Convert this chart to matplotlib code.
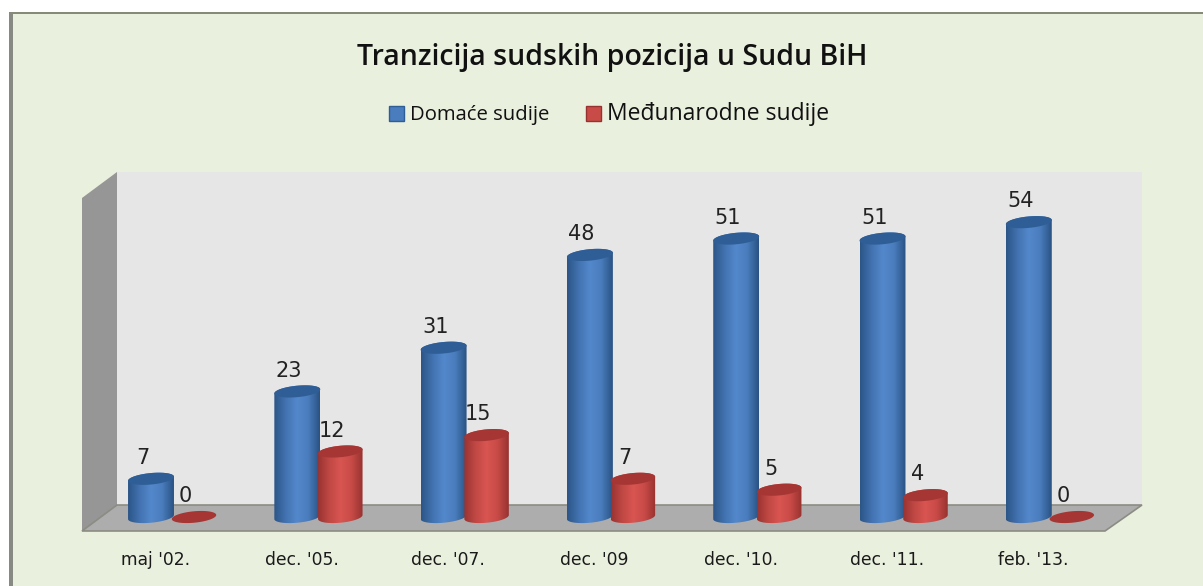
import numpy as np
import matplotlib
matplotlib.use("Agg")
import matplotlib.pyplot as plt
from matplotlib.colors import LinearSegmentedColormap
from matplotlib.patches import Patch, Polygon, Rectangle
from matplotlib.transforms import Affine2D

W, H = 1203, 586

categories = ["maj '02.", "dec. '05.", "dec. '07.", "dec. '09", "dec. '10.", "dec. '11.", "feb. '13."]
domace = [7, 23, 31, 48, 51, 51, 54]
medjunarodne = [0, 12, 15, 7, 5, 4, 0]

title = "Tranzicija sudskih pozicija u Sudu BiH"
series_names = ["Domaće sudije", "Međunarodne sudije"]

# scale of the picture: one category step and one judge, in pixels
PX_CAT = 146.3
PX_VAL = 5.46
X0_PX = 151   # first blue bar
Y0_PX = 517   # value zero

BLUE = LinearSegmentedColormap.from_list("b", ["#2c5688", "#4272b0", "#5388cc", "#4a7dbd", "#2a5384"])
RED = LinearSegmentedColormap.from_list("r", ["#9a3331", "#c04844", "#d95552", "#c84b47", "#983230"])


def cylinder(ax, x, value, cmap, top_color, half_w=0.157, half_h=1.05):
    slope = 0.09 * PX_CAT / PX_VAL  # ellipses rise to the right
    t = np.linspace(0, 2 * np.pi, 80)
    ex = half_w * np.cos(t)
    ey = half_h * np.sin(t) + slope * ex
    if value == 0:
        ax.add_patch(Polygon(np.c_[x + ex, ey], closed=True, fc=top_color, ec="none", zorder=5))
        return
    # body outline: bottom half of the lower ellipse, then back up over the top
    s = np.linspace(np.pi, 2 * np.pi, 40)
    bx = half_w * np.cos(s)
    by = half_h * np.sin(s) + slope * bx
    tx = half_w * np.cos(s - np.pi)
    ty = half_h * np.sin(s - np.pi) + slope * tx + value
    body = Polygon(np.c_[np.r_[x + bx, x + tx], np.r_[by, ty]], closed=True, fc="none", ec="none",
                   transform=ax.transData)
    ax.add_patch(body)
    im = ax.imshow(np.linspace(0, 1, 64)[None, :], extent=[x - half_w, x + half_w, -5, value + 5],
                   cmap=cmap, aspect="auto", zorder=5, interpolation="bilinear")
    im.set_clip_path(body)
    ax.add_patch(Polygon(np.c_[x + ex, ey + value], closed=True, fc=top_color, ec="none", zorder=6))


fig = plt.figure(figsize=(W / 100, H / 100), dpi=100, facecolor="white")
ax = fig.add_axes([0, 0, 1, 1])
ax.set_xlim(-X0_PX / PX_CAT, (W - X0_PX) / PX_CAT)
ax.set_ylim(-(H - Y0_PX) / PX_VAL, Y0_PX / PX_VAL)
ax.patch.set_alpha(0)
for s in ax.spines.values():
    s.set_visible(False)
ax.set_yticks([])

# picture frame and the 3D box, placed in pixels
px = Affine2D().scale(1, -1).translate(0, H)
ax.add_patch(Rectangle((10, 12), W - 10, H - 12, fc="#e9f0de", ec="none", transform=px, zorder=0))
ax.add_patch(Rectangle((9, 12), 3.5, H - 12, fc="#868a82", ec="none", transform=px, zorder=1))
ax.add_patch(Rectangle((9, 12), W - 9, 2, fc="#868a78", ec="none", transform=px, zorder=1))
ax.add_patch(Polygon([(117, 172), (1142, 172), (1142, 505), (117, 505)], fc="#e6e6e6", ec="none", transform=px, zorder=1))
ax.add_patch(Polygon([(82, 198), (117, 172), (117, 505), (82, 531)], fc="#969696", ec="none", transform=px, zorder=2))
ax.add_patch(Polygon([(82, 531), (117, 505), (1142, 505), (1105, 531)], fc="#adadad", ec="#8c8c84", lw=1.2,
                     transform=px, zorder=2))

x = np.arange(len(categories))
RED_OFFSET = 43 / PX_CAT

for i in x:
    cylinder(ax, i, domace[i], BLUE, "#2f5e96")
    ax.annotate(str(domace[i]), (i, domace[i]), xytext=(-6, 15), textcoords="offset points",
                ha="center", va="center", fontsize=15, color="#222222", zorder=9)
for i in x:
    cylinder(ax, i + RED_OFFSET, medjunarodne[i], RED, "#a63633", half_w=0.152)
    ax.annotate(str(medjunarodne[i]), (i + RED_OFFSET, medjunarodne[i]), xytext=(-6, 15),
                textcoords="offset points", ha="center", va="center", fontsize=15, color="#222222", zorder=9)

ax.set_xticks(x + 0.03)
ax.set_xticklabels(categories, fontsize=12.3, color="#1a1a1a", fontfamily="DejaVu Sans")
ax.tick_params(axis="x", length=0, pad=-25)
for lab in ax.get_xticklabels():
    lab.set_zorder(9)

fig.text(612 / W, 1 - 57 / H, title, ha="center", va="center", fontsize=20.5,
         fontfamily="Open Sans", fontweight="semibold", color="#111111")

handles = [Patch(fc="#4a7dbd", ec="#2f5e96"), Patch(fc="#c84b47", ec="#983230")]
leg = ax.legend(handles, series_names, loc="center", bbox_to_anchor=(609 / W, 1 - 114 / H),
                bbox_transform=fig.transFigure, ncol=2, frameon=False, fontsize=13,
                handlelength=0.86, handleheight=0.86, handletextpad=0.33, columnspacing=2.0)
leg.get_texts()[0].set_fontsize(14.6)
leg.get_texts()[1].set_fontsize(16.5)
leg.get_texts()[0].set_fontfamily("Open Sans")
leg.get_texts()[1].set_fontfamily("Open Sans")
leg.get_texts()[0].set_color("#111111")
leg.get_texts()[1].set_color("#111111")
leg.set_zorder(9)

fig.savefig("out.png", dpi=100, facecolor="white")
